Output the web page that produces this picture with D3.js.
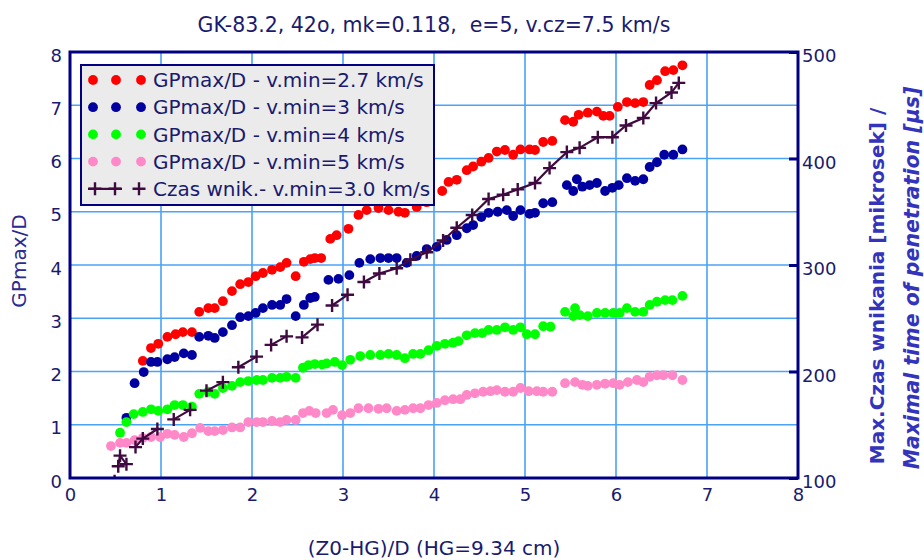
<!DOCTYPE html>
<html>
<head>
<meta charset="utf-8">
<script src="https://cdn.jsdelivr.net/npm/d3@7"></script>
<style>
    body { margin: 0; background: #fff; }
    text { font-family: "DejaVu Sans", sans-serif; white-space: pre; }
</style>
</head>
<body>
<svg id="chart" width="924" height="560"></svg>
<script>
// Data
/////////////////////////////////

var title = 'GK-83.2, 42o, mk=0.118,  e=5, v.cz=7.5 km/s';
var xTicks = [0, 1, 2, 3, 4, 5, 6, 7, 8];
var yTicks = [0, 1, 2, 3, 4, 5, 6, 7, 8];
var yRightTicks = [100, 200, 300, 400, 500];
var legendLabels = [
    'GPmax/D - v.min=2.7 km/s',
    'GPmax/D - v.min=3 km/s',
    'GPmax/D - v.min=4 km/s',
    'GPmax/D - v.min=5 km/s',
    'Czas wnik.- v.min=3.0 km/s'
];

// v.min = 2.7 km/s
var redX = [0.80, 0.89, 0.97, 1.07, 1.16, 1.24, 1.34, 1.42, 1.52, 1.59, 1.68, 1.78, 1.87, 1.96, 2.04, 2.12,
    2.22, 2.31, 2.38, 2.48, 2.57, 2.64, 2.69, 2.76, 2.86, 2.93, 3.06, 3.17, 3.26, 3.39, 3.50, 3.61, 3.68, 3.81,
    3.92, 4.09, 4.16, 4.25, 4.36, 4.43, 4.52, 4.60, 4.69, 4.78, 4.87, 4.95, 5.05, 5.11, 5.20, 5.30, 5.44,
    5.53, 5.59, 5.69, 5.79, 5.86, 5.93, 6.02, 6.12, 6.21, 6.30, 6.37, 6.45, 6.54, 6.63, 6.73];
var redY = [2.20, 2.44, 2.52, 2.65, 2.70, 2.74, 2.74, 3.12, 3.19, 3.19, 3.32, 3.51, 3.64, 3.68, 3.79, 3.85,
    3.91, 3.96, 4.04, 3.79, 4.06, 4.11, 4.13, 4.13, 4.49, 4.56, 4.68, 4.94, 5.03, 5.07, 5.03, 5.00, 4.98, 5.09,
    5.18, 5.39, 5.56, 5.60, 5.78, 5.85, 5.94, 6.01, 6.13, 6.16, 6.07, 6.17, 6.17, 6.16, 6.31, 6.33, 6.72,
    6.69, 6.82, 6.86, 6.88, 6.80, 6.80, 6.97, 7.06, 7.04, 7.06, 7.38, 7.47, 7.64, 7.66, 7.75];

// v.min = 3 km/s
var blueX = [0.62, 0.71, 0.81, 0.89, 0.96, 1.07, 1.15, 1.25, 1.34, 1.42, 1.52, 1.59, 1.68, 1.78, 1.87, 1.96,
    2.04, 2.12, 2.22, 2.31, 2.38, 2.48, 2.57, 2.64, 2.69, 2.84, 2.95, 3.07, 3.18, 3.30, 3.41, 3.50, 3.59,
    3.70, 3.81, 3.92, 4.03, 4.14, 4.25, 4.36, 4.43, 4.52, 4.60, 4.70, 4.80, 4.87, 4.95, 5.05, 5.11, 5.20,
    5.30, 5.46, 5.53, 5.57, 5.63, 5.71, 5.79, 5.88, 5.96, 6.03, 6.12, 6.21, 6.30, 6.37, 6.45, 6.53, 6.63, 6.73];
var blueY = [1.13, 1.78, 1.99, 2.18, 2.18, 2.23, 2.27, 2.34, 2.31, 2.65, 2.67, 2.63, 2.74, 2.87, 3.02, 3.04,
    3.10, 3.19, 3.25, 3.25, 3.36, 3.04, 3.25, 3.38, 3.40, 3.72, 3.74, 3.81, 4.04, 4.11, 4.13, 4.13, 4.13,
    4.04, 4.17, 4.30, 4.34, 4.47, 4.56, 4.69, 4.75, 4.90, 4.98, 5.00, 5.03, 4.92, 5.03, 4.96, 4.98, 5.16,
    5.18, 5.50, 5.39, 5.61, 5.47, 5.50, 5.54, 5.39, 5.45, 5.50, 5.63, 5.58, 5.61, 5.84, 5.93, 6.07, 6.07, 6.17];

// v.min = 4 km/s
var greenX = [0.55, 0.62, 0.70, 0.80, 0.89, 0.97, 1.07, 1.15, 1.24, 1.34, 1.42, 1.52, 1.59, 1.68, 1.78, 1.87,
    1.96, 2.05, 2.12, 2.22, 2.31, 2.38, 2.48, 2.56, 2.62, 2.69, 2.77, 2.82, 2.91, 2.99, 3.08, 3.19, 3.30,
    3.41, 3.50, 3.59, 3.68, 3.77, 3.85, 3.94, 4.03, 4.12, 4.21, 4.27, 4.36, 4.45, 4.53, 4.60, 4.69, 4.78,
    4.87, 4.95, 5.02, 5.11, 5.20, 5.28, 5.44, 5.53, 5.55, 5.60, 5.69, 5.79, 5.88, 5.97, 6.04, 6.12, 6.21,
    6.30, 6.37, 6.45, 6.54, 6.62, 6.73];
var greenY = [0.85, 1.05, 1.20, 1.24, 1.29, 1.26, 1.29, 1.37, 1.37, 1.34, 1.58, 1.62, 1.58, 1.69, 1.73, 1.80,
    1.82, 1.84, 1.84, 1.88, 1.88, 1.90, 1.88, 2.07, 2.12, 2.14, 2.13, 2.15, 2.18, 2.12, 2.22, 2.29, 2.31,
    2.31, 2.33, 2.31, 2.25, 2.33, 2.33, 2.40, 2.48, 2.52, 2.54, 2.57, 2.68, 2.72, 2.72, 2.78, 2.78, 2.83,
    2.78, 2.83, 2.70, 2.70, 2.85, 2.84, 3.12, 3.04, 3.19, 3.06, 3.04, 3.10, 3.10, 3.10, 3.10, 3.19, 3.12,
    3.12, 3.25, 3.31, 3.34, 3.34, 3.42];

// v.min = 5 km/s
var pinkX = [0.45, 0.55, 0.62, 0.71, 0.80, 0.89, 0.99, 1.07, 1.15, 1.25, 1.34, 1.43, 1.52, 1.59, 1.68, 1.78,
    1.87, 1.96, 2.05, 2.12, 2.22, 2.31, 2.38, 2.48, 2.56, 2.63, 2.70, 2.82, 2.89, 2.99, 3.08, 3.17, 3.28,
    3.39, 3.48, 3.59, 3.68, 3.77, 3.85, 3.94, 4.03, 4.12, 4.21, 4.29, 4.36, 4.45, 4.54, 4.62, 4.69, 4.78,
    4.87, 4.95, 5.04, 5.13, 5.20, 5.30, 5.44, 5.55, 5.63, 5.69, 5.79, 5.88, 5.97, 6.04, 6.13, 6.23, 6.30,
    6.37, 6.45, 6.52, 6.62, 6.73];
var pinkY = [0.60, 0.66, 0.66, 0.71, 0.75, 0.77, 0.77, 0.83, 0.81, 0.77, 0.84, 0.94, 0.88, 0.88, 0.90, 0.95,
    0.95, 1.05, 1.05, 1.05, 1.07, 1.05, 1.09, 1.09, 1.22, 1.26, 1.22, 1.22, 1.28, 1.18, 1.22, 1.31, 1.31,
    1.30, 1.31, 1.26, 1.28, 1.31, 1.31, 1.37, 1.41, 1.46, 1.48, 1.48, 1.56, 1.59, 1.62, 1.63, 1.65, 1.62,
    1.62, 1.69, 1.63, 1.63, 1.62, 1.62, 1.78, 1.80, 1.75, 1.73, 1.75, 1.77, 1.78, 1.75, 1.80, 1.84, 1.80,
    1.90, 1.93, 1.93, 1.93, 1.84];

// penetration time [us], right axis; null = break in the line
var timeX = [0.49, null, 0.53, 0.55, 0.62, null, 0.72, 0.80, 0.96, null, 1.14, 1.32, null, 1.50, 1.68, null,
    1.85, 2.05, null, 2.21, 2.38, null, 2.55, 2.72, null, 2.88, 3.05, null, 3.23, 3.40, 3.59, 3.74, 3.92,
    4.10, 4.25, 4.42, 4.60, 4.76, 4.92, 5.11, 5.27, 5.46, 5.60, 5.80, 5.96, 6.11, 6.30, 6.44, 6.61, 6.69];
var timeT = [97, null, 111, 121, 113, null, 129, 137, 146, null, 155, 164, null, 182, 190, null,
    204, 214, null, 225, 233, null, 232, 244, null, 262, 272, null, 284, 292, 297, 305, 312,
    323, 335, 347, 362, 366, 371, 377, 391, 406, 410, 420, 420, 431, 438, 452, 462, 471];

// Chart
/////////////////////////////////

var margin = { top: 52, right: 126, bottom: 82, left: 70 },
    width = 924 - margin.left - margin.right,
    height = 560 - margin.top - margin.bottom,
    navy = '#000080',
    textColor = '#1a1a6e',
    gridColor = '#4aa3f5',
    dotR = 4.9;

var series = [
    { xs: redX, ys: redY, color: '#ff0000' },
    { xs: blueX, ys: blueY, color: '#0000a0' },
    { xs: greenX, ys: greenY, color: '#00ff00' },
    { xs: pinkX, ys: pinkY, color: '#ff88c8' }
];
var timeColor = '#3f0a3f';

var svg = d3.select('#chart');

var x = d3.scaleLinear().domain([0, 8]).range([0, width]);
var y = d3.scaleLinear().domain([0, 8]).range([height, 0]);
var yR = d3.scaleLinear().domain([100, 500]).range([height, 0]);

svg.append('defs').append('clipPath').attr('id', 'plotclip')
    .append('rect').attr('width', width).attr('height', height);

var g = svg.append('g').attr('transform', 'translate(' + margin.left + ',' + margin.top + ')');

// grid
g.append('g').selectAll('line')
    .data(xTicks.slice(1, -1))
    .enter().append('line')
    .attr('x1', d => x(d)).attr('x2', d => x(d))
    .attr('y1', 0).attr('y2', height)
    .attr('stroke', gridColor).attr('stroke-width', 1.6);
g.append('g').selectAll('line')
    .data(yTicks.slice(1, -1))
    .enter().append('line')
    .attr('y1', d => y(d)).attr('y2', d => y(d))
    .attr('x1', 0).attr('x2', width)
    .attr('stroke', gridColor).attr('stroke-width', 1.6);

var plot = g.append('g').attr('clip-path', 'url(#plotclip)');

// dot series
series.forEach(function (s) {
    plot.append('g').selectAll('circle')
        .data(s.xs.map((d, i) => [d, s.ys[i]]))
        .enter().append('circle')
        .attr('cx', d => x(d[0]))
        .attr('cy', d => y(d[1]))
        .attr('r', dotR)
        .attr('fill', s.color);
});

// time series
var timeData = timeX.map((d, i) => ({ x: d, t: timeT[i] }));
var line = d3.line()
    .defined(d => d.x != null)
    .x(d => x(d.x))
    .y(d => yR(d.t));

plot.append('path')
    .datum(timeData)
    .attr('d', line)
    .attr('fill', 'none')
    .attr('stroke', timeColor)
    .attr('stroke-width', 2.2);

var plusPath = 'M-6.5,0H6.5M0,-6.5V6.5';
plot.append('g').selectAll('path')
    .data(timeData.filter(d => d.x != null))
    .enter().append('path')
    .attr('transform', d => 'translate(' + x(d.x) + ',' + yR(d.t) + ')')
    .attr('d', plusPath)
    .attr('stroke', timeColor)
    .attr('stroke-width', 2.4)
    .attr('fill', 'none');

// frame
g.append('rect')
    .attr('width', width).attr('height', height)
    .attr('fill', 'none').attr('stroke', navy).attr('stroke-width', 3);

// axes
var xAxis = g.append('g')
    .attr('transform', 'translate(0,' + height + ')')
    .call(d3.axisBottom(x).tickValues(xTicks).tickSize(0).tickPadding(10));
var yAxis = g.append('g')
    .call(d3.axisLeft(y).tickValues(yTicks).tickSize(0).tickPadding(8));
var yAxisR = g.append('g')
    .attr('transform', 'translate(' + width + ',0)')
    .call(d3.axisRight(yR).tickValues(yRightTicks).tickSizeInner(-9).tickSizeOuter(0).tickPadding(4));

[xAxis, yAxis, yAxisR].forEach(function (a) {
    a.select('.domain').remove();
    a.selectAll('text').attr('fill', textColor).style('font-size', '18px');
});
yAxis.selectAll('text').attr('dy', '0.5em');
yAxisR.selectAll('text').attr('dy', '0.55em');
yAxisR.selectAll('line').attr('stroke', navy).attr('stroke-width', 3);

// titles
svg.append('text')
    .attr('x', margin.left + width / 2).attr('y', 32)
    .attr('text-anchor', 'middle')
    .attr('fill', textColor)
    .style('font-size', '20.5px')
    .text(title);

svg.append('text')
    .attr('x', margin.left + width / 2).attr('y', 555)
    .attr('text-anchor', 'middle')
    .attr('fill', textColor)
    .style('font-size', '20px')
    .text('(Z0-HG)/D (HG=9.34 cm)');

svg.append('text')
    .attr('transform', 'translate(26,261) rotate(-90)')
    .attr('text-anchor', 'middle')
    .attr('fill', '#2a2a90')
    .style('font-size', '20px')
    .text('GPmax/D');

svg.append('text')
    .attr('transform', 'translate(884,286) rotate(-90)')
    .attr('text-anchor', 'middle')
    .attr('fill', '#3333bb')
    .style('font-size', '20px')
    .style('font-weight', 'bold')
    .text('Max.Czas wnikania [mikrosek] /');

svg.append('text')
    .attr('transform', 'translate(919,278) rotate(-90)')
    .attr('text-anchor', 'middle')
    .attr('fill', '#3333bb')
    .style('font-size', '20.5px')
    .style('font-weight', 'bold')
    .style('font-style', 'italic')
    .text('Maximal time of penetration [\u00b5s]');

// legend
var legend = svg.append('g').attr('transform', 'translate(81,65)');
legend.append('rect')
    .attr('width', 353).attr('height', 140)
    .attr('fill', '#ebebeb').attr('stroke', navy).attr('stroke-width', 2);

var rowY = d => 15 + d * 27.2;
series.forEach(function (s, i) {
    legend.append('g').selectAll('circle')
        .data([12, 35, 60])
        .enter().append('circle')
        .attr('cx', d => d).attr('cy', rowY(i))
        .attr('r', dotR).attr('fill', s.color);
});
legend.append('line')
    .attr('x1', 7).attr('x2', 41).attr('y1', rowY(4)).attr('y2', rowY(4))
    .attr('stroke', timeColor).attr('stroke-width', 2.2);
legend.append('g').selectAll('path')
    .data([14, 34, 58])
    .enter().append('path')
    .attr('transform', d => 'translate(' + d + ',' + rowY(4) + ')')
    .attr('d', plusPath)
    .attr('stroke', timeColor).attr('stroke-width', 2.4);

legend.selectAll('text.lab')
    .data(legendLabels)
    .enter().append('text')
    .attr('x', 72).attr('y', (d, i) => rowY(i))
    .attr('dy', '0.36em')
    .attr('fill', textColor)
    .style('font-size', '20px')
    .text(d => d);
</script>
</body>
</html>
